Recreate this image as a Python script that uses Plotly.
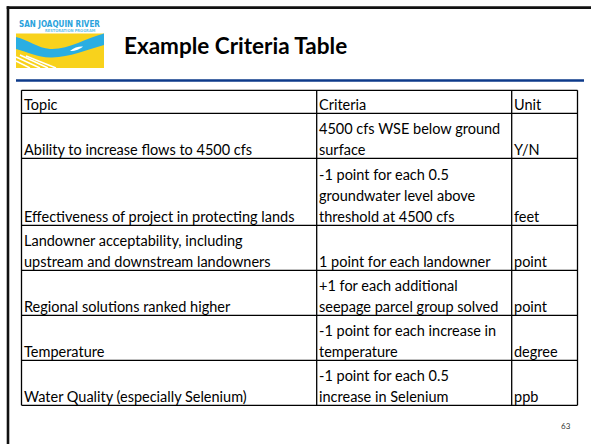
import plotly.graph_objects as go

# ---- data ----
title_text = "Example Criteria Table"
page_number = "63"
logo_line1 = "SAN JOAQUIN RIVER"
logo_line2 = "RESTORATION PROGRAM"

header = ["Topic", "Criteria", "Unit"]
topics = [
    ["Ability to increase flows to 4500 cfs"],
    ["Effectiveness of project in protecting lands"],
    ["Landowner acceptability, including", "upstream and downstream landowners"],
    ["Regional solutions ranked higher"],
    ["Temperature"],
    ["Water Quality (especially Selenium)"],
]
criteria = [
    ["4500 cfs WSE below ground", "surface"],
    ["-1 point for each 0.5", "groundwater level above", "threshold at 4500 cfs"],
    ["1 point for each landowner"],
    ["+1 for each additional", "seepage parcel group solved"],
    ["-1 point for each increase in", "temperature"],
    ["-1 point for each 0.5", "increase in Selenium"],
]
units = [["Y/N"], ["feet"], ["point"], ["point"], ["degree"], ["ppb"]]

# ---- layout constants ----
W, H = 591, 444
col_x = [21.5, 316.7, 511.7, 577.5]
table_top = 90.3
line_pitch = 21.0
row_unit = 22.0
TEXT_FONT = "Lato, Carlito, Calibri, sans-serif"
FS = 14.5

rows = [[[header[0]], [header[1]], [header[2]]]] + [
    [t, c, u] for t, c, u in zip(topics, criteria, units)
]
row_lines = [max(len(cell) for cell in r) for r in rows]
row_edges = [table_top]
for n in row_lines:
    row_edges.append(row_edges[-1] + row_unit * n + 1)

shapes = []
annotations = []

# slide frame (left and top edges)
shapes.append(dict(type="line", x0=8, x1=8, y0=6.3, y1=H + 5,
                   line=dict(color="#111111", width=2.6)))
shapes.append(dict(type="line", x0=6.7, x1=W + 5, y0=7.6, y1=7.6,
                   line=dict(color="#111111", width=2.6)))
# blue rule under title
shapes.append(dict(type="line", x0=16, x1=584, y0=80.5, y1=80.5,
                   line=dict(color="#0d3a8a", width=2.6)))

# table grid
for y in row_edges:
    shapes.append(dict(type="line", x0=col_x[0], x1=col_x[-1], y0=y, y1=y,
                       line=dict(color="black", width=1.3)))
for x in col_x:
    shapes.append(dict(type="line", x0=x, x1=x, y0=row_edges[0], y1=row_edges[-1],
                       line=dict(color="black", width=1.3)))

# table text (bottom aligned)
for ri, r in enumerate(rows):
    bottom = row_edges[ri + 1]
    for ci, cell in enumerate(r):
        n = len(cell)
        for li, txt in enumerate(cell):
            baseline = bottom - 3.0 - (n - 1 - li) * line_pitch
            annotations.append(dict(
                x=col_x[ci] + 1.0, y=baseline + 3.6, xref="x", yref="y",
                text=txt, showarrow=False, xanchor="left", yanchor="bottom",
                font=dict(family=TEXT_FONT, size=FS, color="black"),
                borderpad=0))

# title
annotations.append(dict(x=121.5, y=45, xref="x", yref="y", text="<b>" + title_text + "</b>",
                        showarrow=False, xanchor="left", yanchor="middle",
                        font=dict(family="Lato, sans-serif", size=22.5, color="black")))
# page number
annotations.append(dict(x=566, y=426, xref="x", yref="y", text=page_number,
                        showarrow=False, xanchor="center", yanchor="middle",
                        font=dict(family=TEXT_FONT, size=8, color="#333333")))

# ---- logo ----
shapes.append(dict(type="rect", x0=16, x1=104, y0=33.5, y1=68, fillcolor="#f8d21c",
                   line=dict(width=0)))
shapes.append(dict(type="path",
                   path="M16,37 C28,40 38,48 50,49 C68,50 86,38 104,33.5 L104,45 "
                        "C86,50 70,57 52,57.5 C38,58 28,52 16,49 Z",
                   fillcolor="#2aaee2", line=dict(width=0)))
shapes.append(dict(type="path", path="M70,51 C74,47 80,46 83,46.5 C80,49 76,51 70,51 Z",
                   fillcolor="white", line=dict(width=0)))
for (xa, ya, xb, yb) in [(16, 57, 40, 68), (16, 61, 30, 68), (20, 55, 48, 68), (26, 56, 56, 68)]:
    shapes.append(dict(type="line", x0=xa, y0=ya, x1=xb, y1=yb,
                       line=dict(color="white", width=1.4)))
annotations.append(dict(x=59, y=24, xref="x", yref="y", text="<b>" + logo_line1 + "</b>",
                        showarrow=False, xanchor="center", yanchor="middle",
                        font=dict(family="DejaVu Sans Condensed, sans-serif", size=8, color="#2aa2dc")))
annotations.append(dict(x=70, y=30, xref="x", yref="y", text="<b>" + logo_line2 + "</b>",
                        showarrow=False, xanchor="center", yanchor="middle",
                        font=dict(family="DejaVu Sans Condensed, sans-serif", size=4, color="#6cc3ea")))

fig = go.Figure()
fig.update_layout(
    width=W, height=H, margin=dict(l=0, r=0, t=0, b=0),
    paper_bgcolor="white", plot_bgcolor="white",
    xaxis=dict(range=[0, W], visible=False, fixedrange=True),
    yaxis=dict(range=[H, 0], visible=False, fixedrange=True),
    shapes=shapes, annotations=annotations, showlegend=False,
)
fig.write_html("out.html", config={"displayModeBar": False},
               post_script="document.body.style.margin='0';document.body.style.padding='0';"
                           "document.body.style.overflow='hidden';")
